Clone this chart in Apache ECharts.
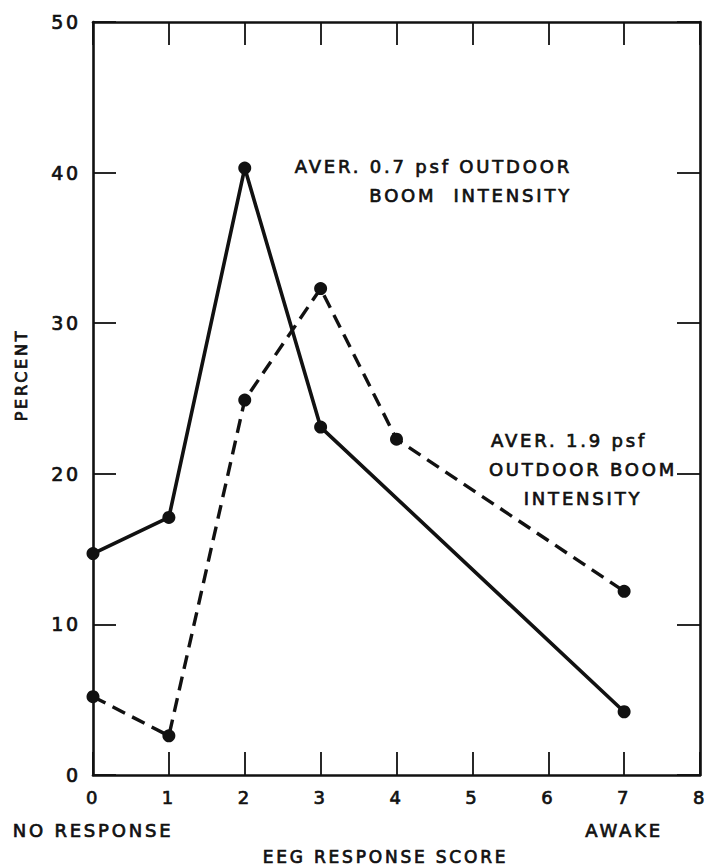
<!DOCTYPE html>
<html>
<head>
<meta charset="utf-8">
<script src="https://cdn.jsdelivr.net/npm/echarts@6/dist/echarts.min.js"></script>
<style>
  html, body { margin: 0; padding: 0; background: #fff; }
  #chart { width: 707px; height: 868px; }
  #chart svg text { letter-spacing: 2.8px; }
</style>
</head>
<body>
<div id="chart"></div>
<script>
// EEG response score distribution for two outdoor boom intensities
const lowBoomScores = [0, 1, 2, 3, 7];
const lowBoomPercent = [14.7, 17.1, 40.3, 23.1, 4.2];     // aver. 0.7 psf
const highBoomScores = [0, 1, 2, 3, 4, 7];
const highBoomPercent = [5.2, 2.6, 24.9, 32.3, 22.3, 12.2]; // aver. 1.9 psf
const xTicks = [0, 1, 2, 3, 4, 5, 6, 7, 8];
const yTicks = [0, 10, 20, 30, 40, 50];
const xSubLabels = { 0: 'NO RESPONSE', 7: 'AWAKE' };

const INK = '#111';
const FONT = '"DejaVu Sans", sans-serif';
// slightly heavier than book weight, lighter than bold
const INKED = { color: INK, fontFamily: FONT, textBorderColor: INK, textBorderWidth: 0.7 };

const chart = echarts.init(document.getElementById('chart'), null, { renderer: 'svg' });

const tickCommon = { show: true, inside: true, length: 23, lineStyle: { color: INK, width: 1.8 } };
const lineCommon = { show: true, onZero: false, lineStyle: { color: INK, width: 2.6 } };

function note(x, y, text, align) {
  return {
    type: 'text', x: x, y: y,
    style: {
      text: text, fill: INK, stroke: INK, lineWidth: 0.7,
      font: '18px ' + FONT, align: align, verticalAlign: 'middle'
    }
  };
}

chart.setOption({
  animation: false,
  backgroundColor: '#fff',
  grid: { left: 93, right: 7, top: 22, bottom: 93, containLabel: false, outerBoundsMode: 'none' },
  xAxis: [
    {
      type: 'value', position: 'bottom',
      min: xTicks[0], max: xTicks[xTicks.length - 1], interval: 1,
      axisLine: lineCommon, axisTick: tickCommon, splitLine: { show: false },
      axisLabel: Object.assign({
        margin: 6, fontSize: 18, lineHeight: 33,
        formatter: v => xSubLabels[v] ? v + '\n{sub|' + xSubLabels[v] + '}' : String(v),
        rich: { sub: Object.assign({ fontSize: 18, lineHeight: 33 }, INKED) }
      }, INKED),
      name: 'EEG RESPONSE SCORE', nameLocation: 'middle', nameGap: 73, nameMoveOverlap: false,
      nameTextStyle: Object.assign({ fontSize: 17, padding: [0, 22, 0, 0] }, INKED)
    },
    {
      type: 'value', position: 'top',
      min: xTicks[0], max: xTicks[xTicks.length - 1], interval: 1,
      axisLine: lineCommon, axisTick: tickCommon, splitLine: { show: false },
      axisLabel: { show: false }
    }
  ],
  yAxis: [
    {
      type: 'value', position: 'left',
      min: yTicks[0], max: yTicks[yTicks.length - 1], interval: 10,
      axisLine: lineCommon, axisTick: tickCommon, splitLine: { show: false },
      axisLabel: Object.assign({ margin: 12, fontSize: 19 }, INKED)
    },
    {
      type: 'value', position: 'right',
      min: yTicks[0], max: yTicks[yTicks.length - 1], interval: 10,
      axisLine: lineCommon, axisTick: tickCommon, splitLine: { show: false },
      axisLabel: { show: false }
    }
  ],
  series: [
    {
      name: 'AVER. 0.7 psf', type: 'line',
      data: lowBoomScores.map((x, i) => [x, lowBoomPercent[i]]),
      symbol: 'circle', symbolSize: 13,
      itemStyle: { color: INK },
      lineStyle: { color: INK, width: 3.6 }
    },
    {
      name: 'AVER. 1.9 psf', type: 'line',
      data: highBoomScores.map((x, i) => [x, highBoomPercent[i]]),
      symbol: 'circle', symbolSize: 13,
      itemStyle: { color: INK },
      lineStyle: { color: INK, width: 3.4, type: [14, 8] }
    }
  ],
  graphic: [
    {
      type: 'text', x: 21, y: 375, rotation: Math.PI / 2,
      style: {
        text: 'PERCENT', fill: INK, stroke: INK, lineWidth: 0.7,
        font: '16px ' + FONT, align: 'center', verticalAlign: 'middle'
      }
    },
    note(572, 166, 'AVER. 0.7 psf OUTDOOR', 'right'),
    note(572, 195, 'BOOM  INTENSITY', 'right'),
    note(491, 440, 'AVER. 1.9 psf', 'left'),
    note(583, 469, 'OUTDOOR BOOM', 'center'),
    note(583, 498, 'INTENSITY', 'center')
  ]
});
</script>
</body>
</html>
